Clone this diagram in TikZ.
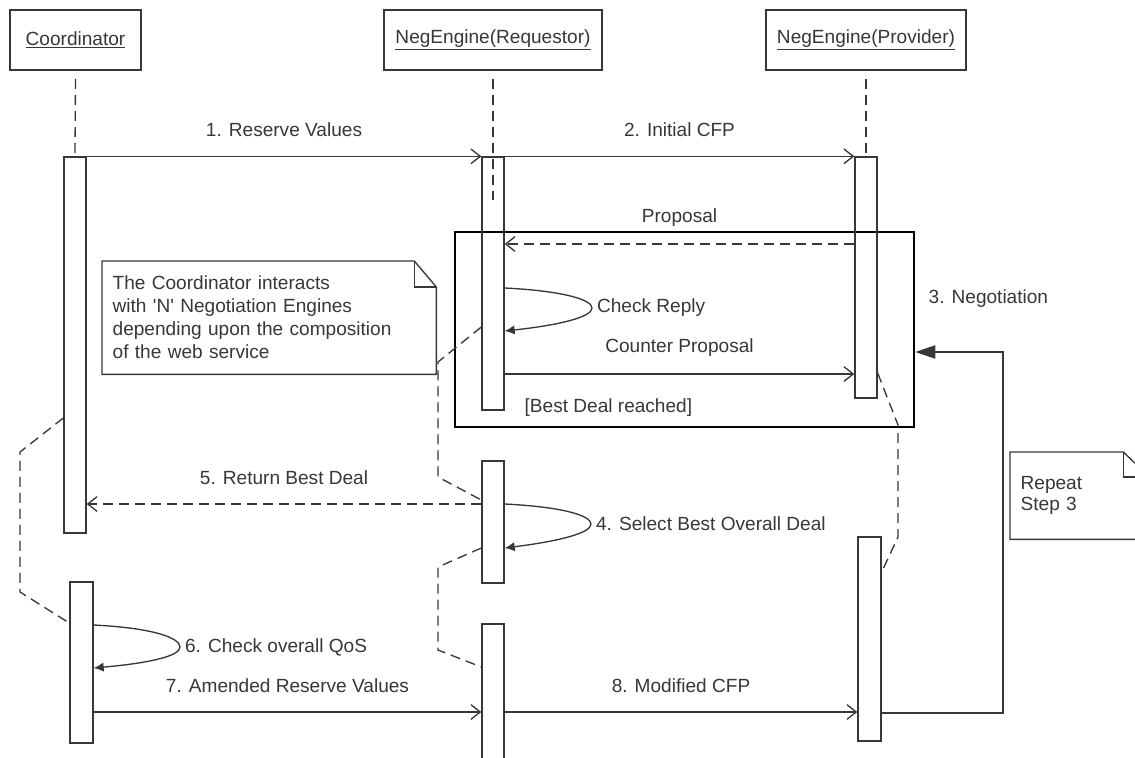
\documentclass[tikz,border=0pt]{standalone}
\usepackage{fontspec}
\setmainfont{Liberation Sans}
\usetikzlibrary{arrows.meta}

\definecolor{ink}{RGB}{55,55,55}

\tikzset{every picture/.style={line width=1pt}}
\tikzset{
  head/.style={draw=ink, line width=1.3pt, minimum height=45pt, inner sep=0pt},
  actbar/.style={draw=ink, minimum width=16.5pt, inner sep=0pt},
  life/.style={draw=ink, dash pattern=on 7.5pt off 4.5pt},
  msg/.style={draw=ink, -{Straight Barb[length=7pt,width=11pt]}},
  reply/.style={msg, dash pattern=on 7.5pt off 4.5pt},
  selfmsg/.style={draw=ink, -{Latex[length=7.5pt,width=7pt]}},
  loopback/.style={draw=ink, -{Triangle[length=15pt,width=10pt]}},
  notebox/.style={anchor=north west, inner ysep=0pt, inner xsep=7.5pt, align=left},
}

\begin{document}
\begin{tikzpicture}[x=0.75pt,y=0.75pt,yscale=-1,xscale=1,
  every node/.style={text=ink, font=\fontsize{14.3}{17.25}\selectfont}]
\useasboundingbox (0,0) rectangle (1135,757);

%Lifeline heads
\node[head, minimum width=98.25pt] (coord) at (75.5,40) {\underline{Coordinator}};
\node[head, minimum width=163.5pt] (req) at (493,40) {\underline{NegEngine(Requestor)}};
\node[head, minimum width=150pt] (prov) at (866,40) {\underline{NegEngine(Provider)}};

%Combined fragment
\node[draw=black, line width=2pt, minimum width=344.25pt, minimum height=146.25pt, inner sep=0pt] (nego) at (684.5,329.5) {};
\node[anchor=west, inner sep=0pt] (negolbl) at (928,299) {3. Negotiation};
\node[anchor=west, inner sep=0pt] (guard) at (524,408) {[Best Deal reached]};

%Activation bars
\node[actbar, minimum height=282pt] (cbar1) at (75,345) {};
\node[actbar, minimum width=17.25pt, minimum height=120.75pt] (cbar2) at (81.5,662.5) {};
\node[actbar, minimum height=189.75pt] (rbar1) at (493,283.5) {};
\node[actbar, minimum height=91.5pt] (rbar2) at (493,522) {};
\node[actbar, minimum height=109.5pt] (rbar3) at (493,697) {};
\node[actbar, minimum height=180.75pt] (pbar1) at (866,277.5) {};
\node[actbar, minimum width=17.25pt, minimum height=153pt] (pbar2) at (869.5,639) {};

%Lifelines (yshift is flipped by yscale=-1)
\coordinate (rlifeend) at (493,200);
\draw[life] ([yshift=6pt]coord.south) -- (cbar1.north);
\draw[life] ([yshift=6pt]req.south) -- (rlifeend);
\draw[life] ([yshift=6pt]prov.south) -- (pbar1.north);
\draw[life] (cbar1.west|-0,418) -- (20,452) -- (20,592) -- (cbar2.west|-0,623);
\draw[life] (rbar1.west|-0,327) -- (438,362) -- (438,477) -- (rbar2.west|-0,500);
\draw[life] (rbar2.west|-0,548) -- (438,567) -- (438,650) -- (rbar3.west|-0,667);
\draw[life] (pbar1.east|-0,373) -- (898,425) -- (898,537) -- (pbar2.east|-0,572);

%Messages
\draw[msg] (cbar1.north east) -- node[yshift=20pt] {1. Reserve Values} (rbar1.north west);
\draw[msg] (rbar1.north east) -- node[yshift=20pt] {2. Initial CFP} (pbar1.north west);
\draw[reply] (pbar1.west|-0,244) -- node[yshift=20pt] {Proposal} (rbar1.east|-0,244);
\draw[selfmsg] (rbar1.east|-0,288) .. controls (565,291) and (592,300) .. (592,308)
  node[anchor=west] {Check Reply} .. controls (592,317) and (560,325) .. (rbar1.east|-0,331);
\draw[msg] (rbar1.east|-0,374) -- node[yshift=20pt] {Counter Proposal} (pbar1.west|-0,374);
\draw[reply] (rbar2.west|-0,504) -- node[yshift=20pt] {5. Return Best Deal} (cbar1.east|-0,504);
\draw[selfmsg] (rbar2.east|-0,504) .. controls (565,507) and (591,516) .. (591,524)
  node[anchor=west] {4. Select Best Overall Deal} .. controls (591,533) and (560,541) .. (rbar2.east|-0,548);
\draw[selfmsg] (cbar2.east|-0,625) .. controls (154,628) and (180,638) .. (180,647)
  node[anchor=west] {6. Check overall QoS} .. controls (180,656) and (150,663) .. (cbar2.east|-0,668);
\draw[msg] (cbar2.east|-0,712) -- node[yshift=20pt] {7. Amended Reserve Values} (rbar3.west|-0,712);
\draw[msg] (rbar3.east|-0,712) -- node[yshift=20pt] {8. Modified CFP} (pbar2.west|-0,712);
\draw[loopback] (pbar2.east|-0,713) -- (1003,713) -- (1003,352) -- (nego.east|-0,352);

%Notes
\node[notebox, minimum width=249.75pt, minimum height=84pt, text width=234.75pt] (note1) at (102,261)
  {The Coordinator interacts\\with \textquotesingle N\textquotesingle{} Negotiation Engines\\depending upon the composition\\of the web service};
\draw[ink] (note1.north west) -- ([xshift=-16.5pt]note1.north east) -- ([yshift=19.5pt]note1.north east)
  -- (note1.south east) -- (note1.south west) -- cycle;
\draw[ink] ([xshift=-16.5pt]note1.north east) |- ([yshift=19.5pt]note1.north east);
\node[notebox, minimum width=100.5pt, minimum height=64.5pt, text width=88.5pt,
  font=\fontsize{14.3}{15.75}\selectfont] (note2) at (1010,452) {Repeat\\Step 3};
\draw[ink] (note2.north west) -- ([xshift=-19.5pt]note2.north east) -- ([yshift=18.75pt]note2.north east)
  -- (note2.south east) -- (note2.south west) -- cycle;
\draw[ink] ([xshift=-19.5pt]note2.north east) |- ([yshift=18.75pt]note2.north east);

\end{tikzpicture}
\end{document}
